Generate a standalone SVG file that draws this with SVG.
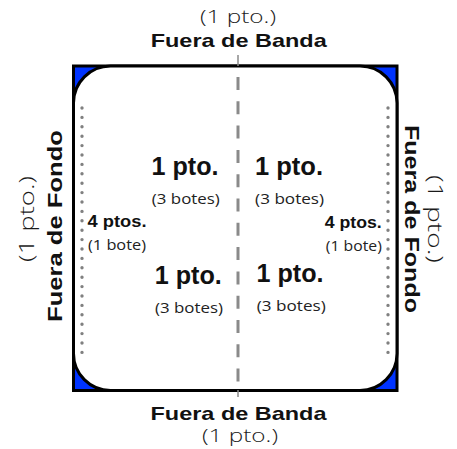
<svg xmlns="http://www.w3.org/2000/svg" width="457" height="449" viewBox="0 0 457 449">
  <style>
    .b { font-family: "Liberation Sans", Arial, sans-serif; font-weight: bold; fill: #111; text-anchor: middle; }
    .l { font-family: "Open Sans", "Lato", "Liberation Sans", sans-serif; font-weight: 300; fill: #1a1a1a; text-anchor: middle; }
    .s { font-family: "Open Sans", "Lato", "Liberation Sans", sans-serif; font-weight: 400; fill: #222; text-anchor: middle; }
    .dots { stroke: #808080; stroke-width: 3.4; stroke-linecap: round; stroke-dasharray: 0 9.4; fill: none; }
  </style>
  <rect width="457" height="449" fill="#ffffff"/>

  <g id="court">
    <rect x="73.5" y="66" width="323.5" height="324.5" fill="#0033ff" stroke="#000" stroke-width="3"/>
    <rect x="73.5" y="66" width="323.5" height="324.5" rx="37" ry="37" fill="#ffffff" stroke="#000" stroke-width="3"/>
  </g>

  <g id="connectors">
    <line x1="238" y1="55" x2="238" y2="66" stroke="#8a8a8a" stroke-width="1.5"/>
    <line x1="238" y1="390" x2="238" y2="397" stroke="#8a8a8a" stroke-width="1.5"/>
    <line x1="238" y1="77" x2="238" y2="382" stroke="#8a8a8a" stroke-width="3" stroke-dasharray="13 11.3"/>
    <line class="dots" x1="82" y1="108" x2="82" y2="353"/>
    <line class="dots" x1="388" y1="108" x2="388" y2="353"/>
  </g>

  <g id="top-label">
    <text class="l" x="238" y="23" font-size="18" textLength="76" lengthAdjust="spacingAndGlyphs">(1 pto.)</text>
    <text class="b" x="238.7" y="47" font-size="19" textLength="176" lengthAdjust="spacingAndGlyphs">Fuera de Banda</text>
  </g>

  <g id="bottom-label">
    <text class="b" x="238.5" y="420" font-size="19" textLength="176" lengthAdjust="spacingAndGlyphs">Fuera de Banda</text>
    <text class="l" x="240" y="442" font-size="18" textLength="76" lengthAdjust="spacingAndGlyphs">(1 pto.)</text>
  </g>

  <g id="left-label">
    <text class="b" transform="translate(62 226) rotate(-90)" x="0" y="0" font-size="21" textLength="192" lengthAdjust="spacingAndGlyphs">Fuera de Fondo</text>
    <text class="l" transform="translate(34 219) rotate(-90)" x="0" y="0" font-size="21" textLength="86" lengthAdjust="spacingAndGlyphs">(1 pto.)</text>
  </g>

  <g id="right-label">
    <text class="b" transform="translate(405 219) rotate(90)" x="0" y="0" font-size="21" textLength="188" lengthAdjust="spacingAndGlyphs">Fuera de Fondo</text>
    <text class="l" transform="translate(428 219) rotate(90)" x="0" y="0" font-size="21" textLength="88" lengthAdjust="spacingAndGlyphs">(1 pto.)</text>
  </g>

  <g id="zone-top-left">
    <text class="b" x="185" y="175" font-size="25" textLength="67" lengthAdjust="spacingAndGlyphs">1 pto.</text>
    <text class="s" x="185.8" y="204" font-size="15" textLength="68" lengthAdjust="spacingAndGlyphs">(3 botes)</text>
  </g>

  <g id="zone-top-right">
    <text class="b" x="289" y="175" font-size="25" textLength="68" lengthAdjust="spacingAndGlyphs">1 pto.</text>
    <text class="s" x="289.6" y="204" font-size="15" textLength="69" lengthAdjust="spacingAndGlyphs">(3 botes)</text>
  </g>

  <g id="zone-bottom-left">
    <text class="b" x="188.3" y="284" font-size="25" textLength="67" lengthAdjust="spacingAndGlyphs">1 pto.</text>
    <text class="s" x="189" y="313" font-size="15" textLength="68" lengthAdjust="spacingAndGlyphs">(3 botes)</text>
  </g>

  <g id="zone-bottom-right">
    <text class="b" x="290" y="282" font-size="25" textLength="67" lengthAdjust="spacingAndGlyphs">1 pto.</text>
    <text class="s" x="291.3" y="311" font-size="15" textLength="69" lengthAdjust="spacingAndGlyphs">(3 botes)</text>
  </g>

  <g id="zone-left-end">
    <text class="b" x="117" y="227" font-size="17" textLength="59" lengthAdjust="spacingAndGlyphs">4 ptos.</text>
    <text class="s" x="117" y="250" font-size="14" textLength="58" lengthAdjust="spacingAndGlyphs">(1 bote)</text>
  </g>

  <g id="zone-right-end">
    <text class="b" x="353.3" y="228" font-size="17" textLength="57" lengthAdjust="spacingAndGlyphs">4 ptos.</text>
    <text class="s" x="353.8" y="251" font-size="14" textLength="56" lengthAdjust="spacingAndGlyphs">(1 bote)</text>
  </g>
</svg>
